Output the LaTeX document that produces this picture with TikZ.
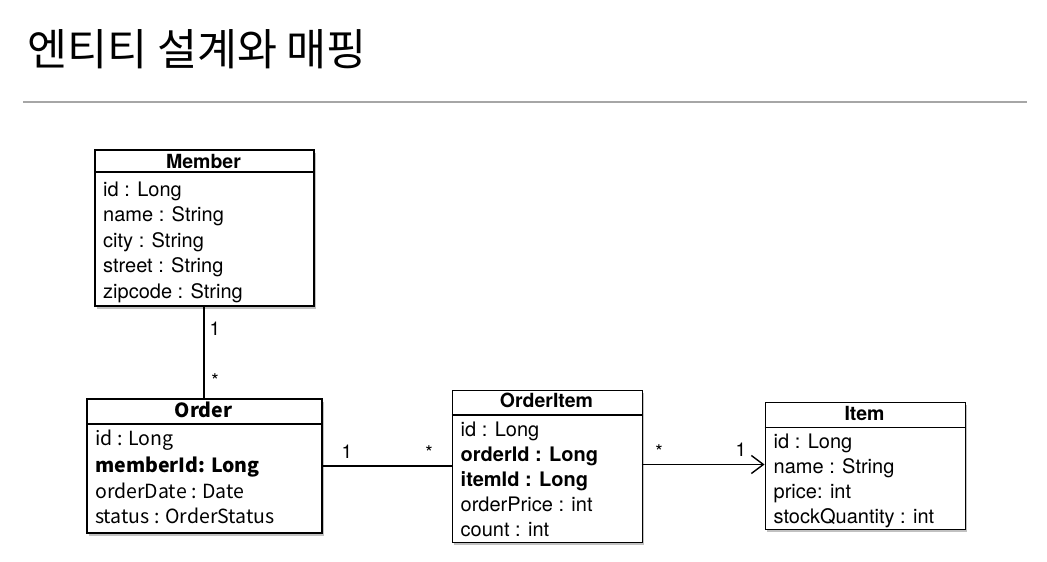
\documentclass[tikz,border=0pt]{standalone}
\usepackage{fontspec}
\setmainfont{TeX Gyre Heros}
\newfontfamily\krfont{Noto Sans CJK KR}
\usetikzlibrary{shadows,arrows.meta}

\tikzset{
  entity/.style={draw, line width=1.7pt, fill=white, anchor=north west, inner sep=0pt,
    drop shadow={shadow xshift=2pt, shadow yshift=-3pt, fill=black!40, opacity=0.6}},
  head/.style={anchor=base, inner sep=0pt, font=\fontsize{19.5}{22}\selectfont\bfseries},
  attr/.style={anchor=base west, inner sep=0pt, font=\fontsize{20}{22}\selectfont},
  mult/.style={inner sep=0pt, font=\fontsize{19}{20}\selectfont},
  assoc/.style={line width=1.4pt}
}

\begin{document}
\begin{tikzpicture}[x=1pt, y=-1pt]
    \useasboundingbox[fill=white] (0,0) rectangle (1047,562);

    % title
    \node[anchor=west, inner sep=0pt, font=\krfont\fontsize{43.5}{46}\selectfont] (title) at (27,49) {엔티티 설계와 매핑};
    \draw[line width=1.2pt, black!35] (23,102) -- (1027,102);

    % Member
    \node[entity, minimum width=219pt, minimum height=156pt] (member) at (94,149) {};
    \draw[line width=1.7pt] (94,172) -- (313,172);
    \node[head] (memberT) at (203.5,168) {Member};
    \foreach \y/\t [count=\i] in {196/id : Long, 221/name : String, 247/city : String,
        272/street : String, 298/zipcode : String}
        \node[attr] (memberA\i) at (103,\y) {\t};

    % Order
    \node[entity, minimum width=235pt, minimum height=134pt] (order) at (86,398) {};
    \draw[line width=1.7pt] (86,424) -- (321,424);
    \node[head, font=\krfont\fontsize{19.5}{22}\selectfont\bfseries] (orderT) at (203.5,417) {Order};
    \foreach \y/\t [count=\i] in {445/id : Long, 472/\textbf{memberId: Long},
        498/orderDate : Date, 523/status : OrderStatus}
        \node[attr, font=\krfont\fontsize{19.5}{22}\selectfont] (orderA\i) at (95,\y) {\t};

    % OrderItem
    \node[entity, minimum width=190pt, minimum height=152pt] (orderitem) at (451.5,389.5) {};
    \draw[line width=1.7pt] (451.5,415) -- (641.5,415);
    \node[head] (orderitemT) at (546.5,407) {OrderItem};
    \foreach \y/\t [count=\i] in {436/id : Long, 461/\textbf{orderId : Long},
        486/\textbf{itemId : Long}, 511/orderPrice : int, 536/count : int}
        \node[attr] (orderitemA\i) at (460.5,\y) {\t};

    % Item
    \node[entity, minimum width=200pt, minimum height=127pt] (item) at (764.5,401.5) {};
    \draw[line width=1.7pt] (764.5,427.5) -- (964.5,427.5);
    \node[head] (itemT) at (864.5,420) {Item};
    \foreach \y/\t [count=\i] in {448/id : Long, 473/name : String,
        498/price: int, 523/stockQuantity : int}
        \node[attr] (itemA\i) at (773.5,\y) {\t};

    % associations
    \coordinate (oiR) at (641.5,464.5);
    \draw[assoc] (member.south -| 204,0) -- (order.north -| 204,0);
    \draw[assoc] (order.east) -- (order.east -| orderitem.west);
    \draw[assoc, -{Straight Barb[length=12pt, width=18pt, line width=1.4pt]}] (oiR) -- (oiR -| item.west);

    \node[mult] (m1) at (215,329) {1};
    \node[mult] (m2) at (215,381) {*};
    \node[mult] (m3) at (347,452) {1};
    \node[mult] (m4) at (429,453) {*};
    \node[mult] (m5) at (659,452) {*};
    \node[mult] (m6) at (741,450) {1};
\end{tikzpicture}
\end{document}
